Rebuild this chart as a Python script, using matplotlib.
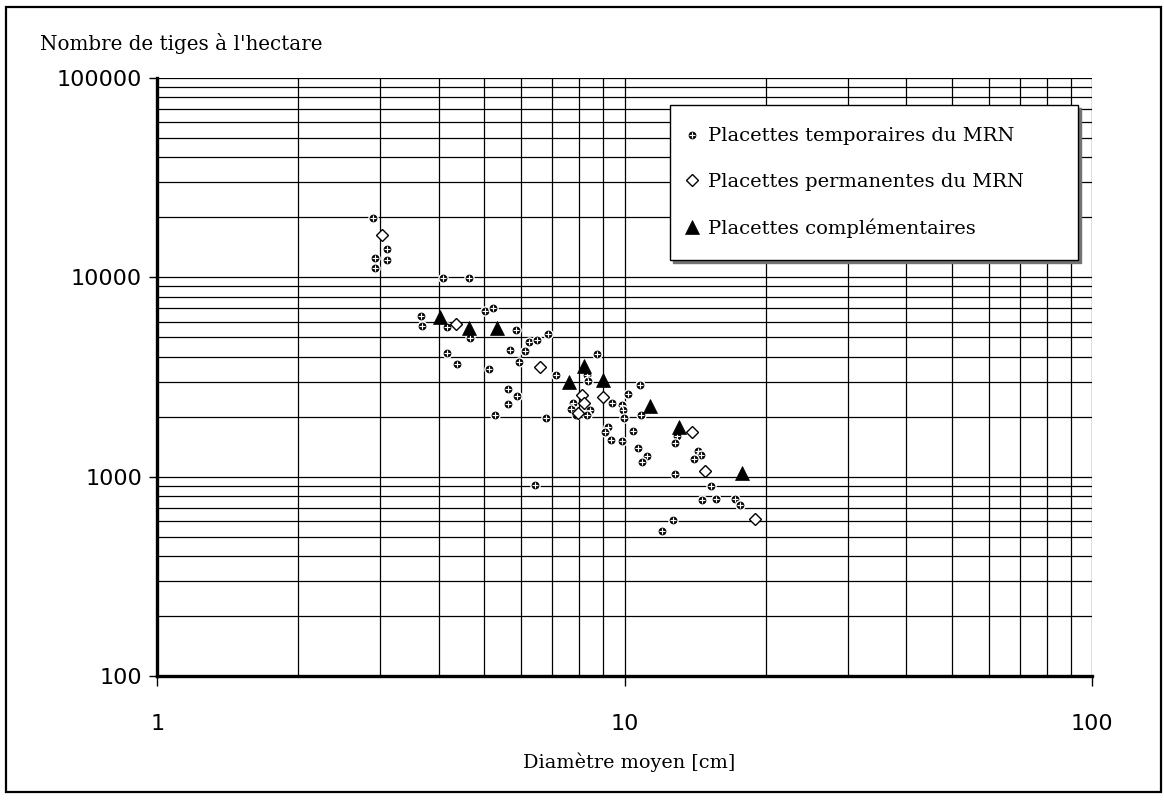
import matplotlib
matplotlib.use('Agg')
import matplotlib.pyplot as plt
from matplotlib.patches import Rectangle
from matplotlib.ticker import LogLocator, NullFormatter, FixedLocator, FixedFormatter
from matplotlib.legend_handler import HandlerTuple

# ---- data ----
temp_d = [2.89, 3.10, 2.92, 3.10, 2.92, 4.09, 4.64, 5.03, 5.22, 3.66,
          3.68, 4.17, 5.84, 4.67, 6.23, 6.48, 6.86, 5.68, 6.13, 4.17,
          4.37, 5.95, 5.12, 7.13, 8.71, 8.30, 8.35, 5.63, 5.87, 5.63,
          5.27, 6.78, 6.42, 10.76, 10.14, 9.40, 9.85, 9.91, 9.98, 10.85,
          7.75, 7.67, 7.86, 8.41, 8.30, 9.21, 9.06, 9.34, 9.86, 10.41,
          10.69, 11.14, 10.87, 12.93, 12.82, 14.37, 14.54, 14.04, 12.82, 15.31,
          14.63, 15.65, 17.24, 17.64, 12.68, 11.99]
temp_n = [19830, 13870, 12500, 12170, 11190, 9890, 9890, 6780, 7050, 6380,
          5680, 5640, 5440, 4950, 4760, 4870, 5180, 4340, 4270, 4170,
          3660, 3750, 3450, 3220, 4110, 3220, 3020, 2760, 2530, 2310,
          2030, 1980, 903, 2870, 2590, 2330, 2280, 2150, 1970, 2030,
          2340, 2190, 2030, 2150, 2050, 1770, 1680, 1520, 1510, 1700,
          1400, 1270, 1180, 1600, 1480, 1340, 1280, 1230, 1030, 896,
          760, 771, 777, 717, 605, 531]

perm_d = [3.03, 4.36, 6.59, 8.09, 8.19, 7.95, 8.98, 13.92, 14.85, 18.96]
perm_n = [16370, 5830, 3530, 2570, 2330, 2090, 2500, 1680, 1070, 610]

comp_d = [4.02, 4.65, 5.32, 7.60, 8.18, 9.00, 11.32, 13.08, 17.79]
comp_n = [6350, 5550, 5550, 2990, 3580, 3070, 2260, 1780, 1045]

series_labels = ["Placettes temporaires du MRN",
                 "Placettes permanentes du MRN",
                 "Placettes complémentaires"]
x_ticks = [1, 10, 100]
x_tick_labels = ["1", "10", "100"]
y_ticks = [100, 1000, 10000, 100000]
y_tick_labels = ["100", "1000", "10000", "100000"]
x_title = "Diamètre moyen [cm]"
y_title = "Nombre de tiges à l'hectare"

# ---- figure ----
W, H = 1164, 802
fig = plt.figure(figsize=(W / 100, H / 100), dpi=100)
fig.patch.set_facecolor('white')

left, right, top, bottom = 157.3, 1092.3, 78.0, 676.0
ax = fig.add_axes([left / W, 1 - bottom / H, (right - left) / W, (bottom - top) / H])
ax.set_xscale('log')
ax.set_yscale('log')
ax.set_xlim(1, 100)
ax.set_ylim(100, 100000)

ax.xaxis.set_major_locator(FixedLocator(x_ticks))
ax.xaxis.set_major_formatter(FixedFormatter(x_tick_labels))
ax.yaxis.set_major_locator(FixedLocator(y_ticks))
ax.yaxis.set_major_formatter(FixedFormatter(y_tick_labels))
ax.xaxis.set_minor_locator(LogLocator(base=10, subs=range(2, 10)))
ax.yaxis.set_minor_locator(LogLocator(base=10, subs=range(2, 10)))
ax.xaxis.set_minor_formatter(NullFormatter())
ax.yaxis.set_minor_formatter(NullFormatter())

ax.grid(which='both', color='black', linewidth=0.9)
ax.set_axisbelow(True)
ax.tick_params(which='minor', length=0)
ax.tick_params(axis='x', which='major', direction='out', length=7, width=1,
               pad=20, labelsize=16)
ax.tick_params(axis='y', which='major', direction='out', length=6, width=1,
               pad=5, labelsize=16)
for lab in ax.get_xticklabels() + ax.get_yticklabels():
    lab.set_family('DejaVu Sans')

for s in ('top', 'right'):
    ax.spines[s].set_visible(False)
for s in ('left', 'bottom'):
    ax.spines[s].set_linewidth(2.4)
    ax.spines[s].set_zorder(5)

# series
h1, = ax.plot(temp_d, temp_n, linestyle='none', marker='o', ms=6.6,
              mfc='black', mec='white', mew=1.0, zorder=3)
h2, = ax.plot(temp_d, temp_n, linestyle='none', marker='+', ms=4.6,
              mec='white', mew=0.85, zorder=3.1)
h3, = ax.plot(perm_d, perm_n, linestyle='none', marker='D', ms=6.0,
              mfc='white', mec='black', mew=1.0, zorder=4)
h4, = ax.plot(comp_d, comp_n, linestyle='none', marker='^', ms=9.5,
              mfc='black', mec='black', mew=0.5, zorder=4.5)

# legend
lx0, ly0, lw_, lh_ = 670, 105, 408, 153
leg = ax.legend(handles=[(h1, h2), h3, h4], labels=series_labels,
                handler_map={tuple: HandlerTuple(ndivide=1, pad=0)},
                loc='upper left',
                bbox_to_anchor=(lx0 / W, 1 - (ly0 + lh_) / H, lw_ / W, lh_ / H),
                bbox_transform=fig.transFigure, mode='expand', borderaxespad=0,
                frameon=True, fancybox=False, edgecolor='black', framealpha=1,
                shadow={'color': '0.45', 'alpha': 1},
                prop={'family': 'DejaVu Serif', 'size': 14},
                labelspacing=1.42, handlelength=0.0, handletextpad=0.8,
                borderpad=1.15, numpoints=1)
leg.get_frame().set_linewidth(1.0)
leg.set_zorder(10)

# titles
fig.text(40 / W, 1 - 43 / H, y_title, family='DejaVu Serif', fontsize=14.3,
         ha='left', va='center')
fig.text(629 / W, 1 - 762 / H, x_title, family='DejaVu Serif', fontsize=13.9,
         ha='center', va='center')

# outer frame
fig.patches.append(Rectangle((6 / W, 1 - 792 / H), (1161 - 6) / W, (792 - 7) / H,
                             transform=fig.transFigure, fill=False,
                             edgecolor='black', linewidth=1.6))

fig.savefig('out.png', dpi=100)
